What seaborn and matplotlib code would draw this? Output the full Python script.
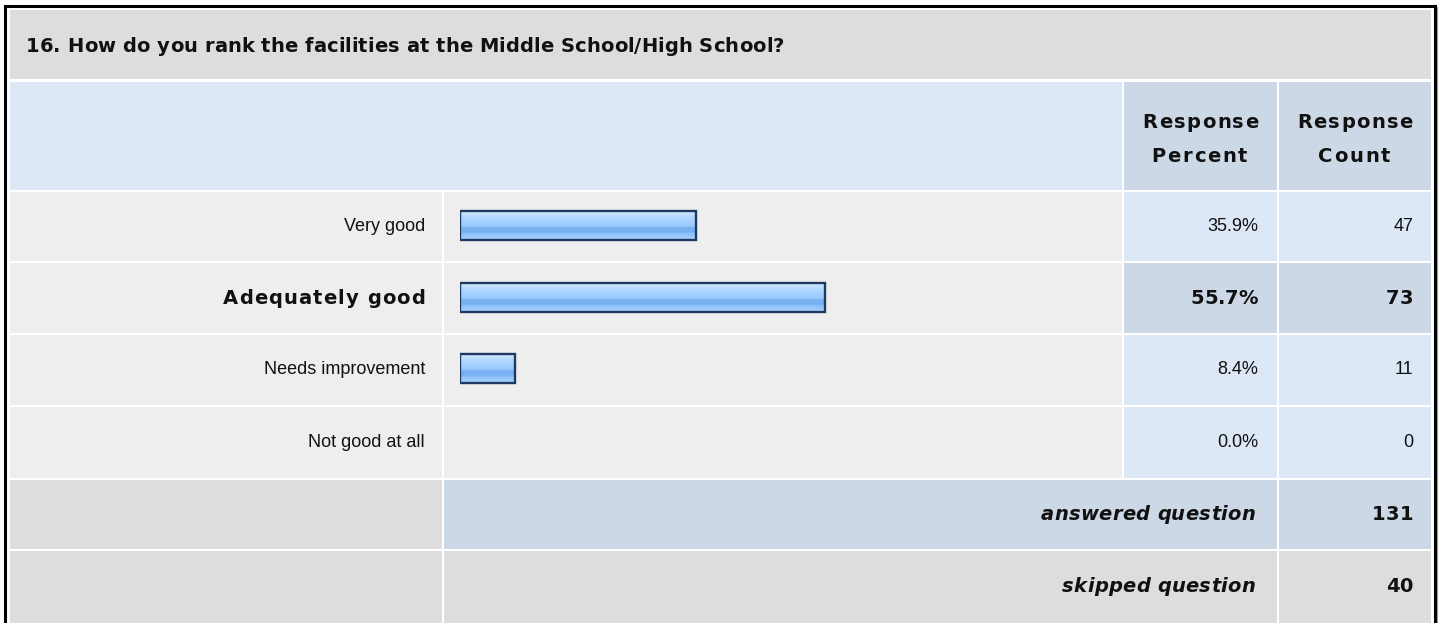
import numpy as np
import matplotlib
matplotlib.use("Agg")
import matplotlib.pyplot as plt
from matplotlib.patches import Rectangle
from matplotlib.colors import LinearSegmentedColormap
import seaborn as sns

# ---- data ----
title = "16. How do you rank the facilities at the Middle School/High School?"
categories = ["Very good", "Adequately good", "Needs improvement", "Not good at all"]
percents = [35.9, 55.7, 8.4, 0.0]
counts = [47, 73, 11, 0]
answered = 131
skipped = 40
header_lines = [("Response", "Percent"), ("Response", "Count")]

sns.set_theme(style="white")
plt.rcParams['font.family'] = ['Liberation Sans', 'DejaVu Sans']

W, H = 1440, 623
fig = plt.figure(figsize=(W / 100, H / 100), dpi=100)
fig.patch.set_facecolor("white")
bg = fig.add_axes([0, 0, 1, 1])
bg.set_xlim(0, W)
bg.set_ylim(H, 0)
bg.axis("off")
renderer = fig.canvas.get_renderer()

C_TITLE = "#dddddd"
C_HEAD = "#dce8f6"
C_HEAD2 = "#ccd8e6"
C_ROW = "#eeeeee"
C_CELL = "#dde8f6"
C_CELL_HI = "#ccd8e6"
TXT = "#111111"
BKW = dict(fontsize=14, fontweight="bold", color=TXT, family=["DejaVu Sans"])
RKW = dict(fontsize=13, fontweight="normal", color=TXT, va="center", zorder=3)


def cell(x0, x1, y0, y1, color):
    bg.add_patch(Rectangle((x0, y0), x1 - x0, y1 - y0, facecolor=color,
                           edgecolor="none", zorder=1))


def measure(s, **kw):
    t = bg.text(0, 0, s, **kw)
    w = t.get_window_extent(renderer).width
    t.remove()
    return w


def tracked(x, y, s, width, ha="left", **kw):
    """Draw (lightly) letter-spaced text spanning about `width` pixels."""
    nat = measure(s, **kw)
    n = len(s)
    track = max(0.0, (width - nat) / (n - 1)) if n > 1 else 0.0
    tot = nat + track * (n - 1)
    x0 = x - tot if ha == "right" else (x - tot / 2 if ha == "center" else x)
    for k, ch in enumerate(s):
        if ch == " ":
            continue
        off = 0.0 if k == 0 else measure(s[:k + 1], **kw) - measure(ch, **kw)
        bg.text(x0 + off + k * track, y, ch, ha="left", va="center",
                zorder=3, **kw)


# column edges
c0 = (10, 442)
c1 = (444, 1122)
c2 = (1124, 1277)
c3 = (1279, 1431)

# title
cell(10, 1431, 10, 79, C_TITLE)
tracked(26, 46, title, 758, ha="left", **BKW)

# header
cell(c0[0], c1[1], 82, 190, C_HEAD)
cell(c2[0], c2[1], 82, 190, C_HEAD2)
cell(c3[0], c3[1], 82, 190, C_HEAD2)
hw = {"Response": 116, "Percent": 96, "Count": 72}
for (x0, x1), (l1, l2) in zip([c2, c3], header_lines):
    xc = (x0 + x1) / 2
    tracked(xc, 122, l1, hw[l1], ha="center", **BKW)
    tracked(xc - 1, 157, l2, hw[l2], ha="center", **BKW)

row_y = [(192, 261), (263, 333), (335, 405), (407, 478)]
hi = int(np.argmax(percents))
for i, (y0, y1) in enumerate(row_y):
    cell(c0[0], c0[1], y0, y1, C_ROW)
    cell(c1[0], c1[1], y0, y1, C_ROW)
    cc = C_CELL_HI if i == hi else C_CELL
    cell(c2[0], c2[1], y0, y1, cc)
    cell(c3[0], c3[1], y0, y1, cc)
    yc = (y0 + y1) / 2
    ptxt = f"{percents[i]:.1f}%"
    ctxt = f"{counts[i]}"
    if i == hi:
        tracked(425, yc, categories[i], 202, ha="right", **BKW)
        tracked(1258, yc, ptxt, 66, ha="right", **BKW)
        tracked(1413, yc, ctxt, 21, ha="right", **BKW)
    else:
        bg.text(425, yc, categories[i], ha="right", **RKW)
        bg.text(1258, yc, ptxt, ha="right", **RKW)
        bg.text(1413, yc, ctxt, ha="right", **RKW)

# answered / skipped
cell(c0[0], c0[1], 480, 549, C_TITLE)
cell(c1[0], c2[1], 480, 549, C_HEAD2)
cell(c3[0], c3[1], 480, 549, C_HEAD2)
cell(c0[0], c0[1], 551, 623, C_TITLE)
cell(c1[0], c2[1], 551, 623, C_TITLE)
cell(c3[0], c3[1], 551, 623, C_TITLE)
IKW = dict(BKW, style="italic")
for (y0, y1), lab, lw_, val, vw in [((480, 549), "answered question", 214, answered, 34),
                                    ((551, 622), "skipped question", 193, skipped, 25)]:
    yc = (y0 + y1) / 2
    tracked(1255, yc, lab, lw_, ha="right", **IKW)
    tracked(1413, yc, f"{val}", vw, ha="right", **BKW)

# outer frame
bg.plot([5, 5], [H + 5, 5.5], color="black", lw=2.2, zorder=5, solid_capstyle="projecting")
bg.plot([5, 1434.5], [5.5, 5.5], color="black", lw=2.2, zorder=5, solid_capstyle="projecting")
bg.plot([1434.5, 1434.5], [5.5, H + 5], color="black", lw=2.2, zorder=5, solid_capstyle="projecting")
bg.plot([1437, 1437], [7, H + 5], color="#999999", lw=0.8, zorder=5)

# ---- bars via seaborn ----
bx0, bx1 = 460, 1116
by0, by1 = 190, 476
bar_ax = fig.add_axes([bx0 / W, 1 - by1 / H, (bx1 - bx0) / W, (by1 - by0) / H])
bar_ax.patch.set_alpha(0)
sns.barplot(x=percents, y=categories, orient="h", ax=bar_ax, width=0.4,
            color="#9ccaff", edgecolor="#1e3a5f", linewidth=1.7)
bar_ax.set_xlim(0, 100)
bar_ax.set_ylim(3.5, -0.5)
bar_ax.axis("off")

grad = LinearSegmentedColormap.from_list("g", [
    (0.0, "#d2eaff"), (0.12, "#bfe0ff"), (0.3, "#a8d4ff"), (0.52, "#9ccaff"),
    (0.58, "#78b0f2"), (0.72, "#78b0f2"), (0.8, "#90c2fa"), (1.0, "#a6d3ff")])
gimg = np.linspace(0, 1, 64).reshape(-1, 1)
for p in list(bar_ax.patches):
    w = p.get_width()
    if w <= 0:
        p.set_visible(False)
        continue
    x, y, h = p.get_x(), p.get_y(), p.get_height()
    bar_ax.imshow(gimg, cmap=grad, aspect="auto", origin="upper",
                  extent=(x, x + w, y + h, y), zorder=1, interpolation="bilinear")
    p.set_facecolor("none")
    p.set_zorder(2)
bar_ax.set_xlim(0, 100)
bar_ax.set_ylim(3.5, -0.5)

fig.savefig("out.png", dpi=100, facecolor="white")
